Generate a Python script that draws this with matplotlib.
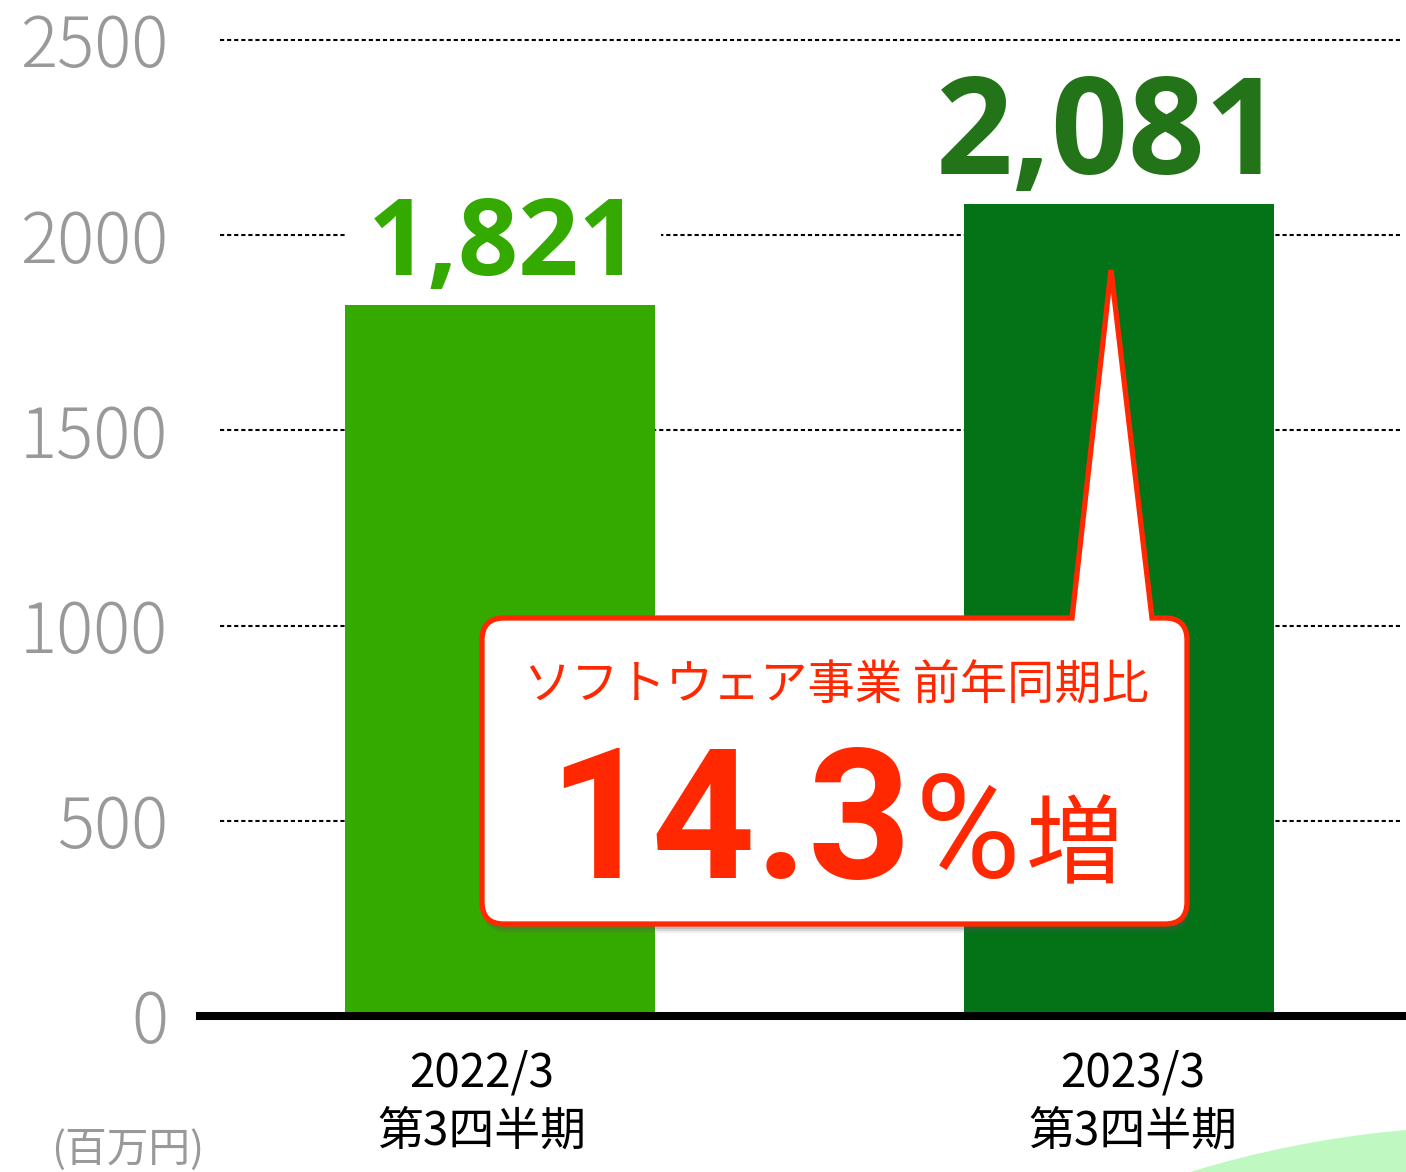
import numpy as np
import matplotlib
matplotlib.use("Agg")
import matplotlib.pyplot as plt
from matplotlib.path import Path
from matplotlib.patches import PathPatch, Circle
from matplotlib.transforms import IdentityTransform, Affine2D

plt.rcParams['font.family'] = ['Noto Sans CJK JP', 'DejaVu Sans']

# data
periods = ['2022/3\n第3四半期', '2023/3\n第3四半期']
sales = [1821, 2081]
sales_labels = ['1,821', '2,081']
yticks = [0, 500, 1000, 1500, 2000, 2500]
unit_label = '(百万円)'
callout_title = 'ソフトウェア事業 前年同期比'
growth = '14.3'

bar_colors = ['#34a900', '#047317']
label_colors = ['#34a900', '#237318']
label_sizes = [76, 97]
label_dx = [4, -10]      # px
xlabel_dx = [-18, 14]    # px
red = '#ff2800'

W, H = 1406, 1172
fig = plt.figure(figsize=(W / 100, H / 100), dpi=100)
ax = fig.add_axes([200 / W, (H - 1016) / H, 1 - 200 / W, (1016 - 40) / H])

x = np.arange(len(sales))
ax.set_xlim(-0.4847, 1.4637)
ax.set_ylim(0, 2500)

# gridlines (dotted)
for t in yticks[1:]:
    ax.hlines(t, -0.4523, 1.454, colors='black', linewidth=1.5,
              linestyles=(0, (2.0, 1.4)), zorder=1, clip_on=False)

ax.bar(x, sales, width=0.5, color=bar_colors, zorder=3)

for i, v in enumerate(sales):
    bb = None
    if i == 0:
        bb = dict(boxstyle='square,pad=0.2', fc='white', ec='none')
    ax.annotate(sales_labels[i], xy=(x[i], v), xytext=(label_dx[i] * 0.72, 30 * 0.72),
                textcoords='offset points', ha='center', va='baseline',
                fontsize=label_sizes[i], fontweight='bold', color=label_colors[i],
                family=['Open Sans', 'DejaVu Sans'], bbox=bb, zorder=2)

# axes styling
for s in ['left', 'right', 'top']:
    ax.spines[s].set_visible(False)
ax.spines['bottom'].set_linewidth(5.8)
ax.spines['bottom'].set_color('black')
ax.spines['bottom'].set_zorder(4)
ax.set_yticks(yticks)
ax.set_yticklabels([str(t) for t in yticks], color='#999999', fontsize=50,
                   fontweight='light')
ax.tick_params(axis='y', length=0, pad=23)
ax.set_xticks([])

for i, lab in enumerate(periods):
    ax.annotate(lab, xy=(x[i], 0), xytext=(xlabel_dx[i] * 0.72, -24),
                textcoords='offset points', ha='center', va='top',
                fontsize=33, color='black', linespacing=1.25)

fig.text(128 / W, 1 - 1129 / H, unit_label, ha='center', va='top',
         fontsize=30, color='#999999')

# decorative green shape bottom-right
fig.patches.append(Circle((1496.5, -1000), 1045.9, transform=IdentityTransform(),
                          facecolor='#bff8c0', edgecolor='none', zorder=0))


# callout balloon (image pixel coords)
def P(px, py):
    return (px, H - py)


def balloon(l, t, r, b, rad, bx0, bx1, tip):
    verts = [P(l + rad, t), P(bx0, t), P(*tip), P(bx1, t), P(r - rad, t),
             P(r, t), P(r, t + rad), P(r, b - rad), P(r, b), P(r - rad, b),
             P(l + rad, b), P(l, b), P(l, b - rad), P(l, t + rad), P(l, t),
             P(l + rad, t), P(l + rad, t)]
    codes = [Path.MOVETO, Path.LINETO, Path.LINETO, Path.LINETO, Path.LINETO,
             Path.CURVE3, Path.CURVE3, Path.LINETO, Path.CURVE3, Path.CURVE3,
             Path.LINETO, Path.CURVE3, Path.CURVE3, Path.LINETO, Path.CURVE3,
             Path.CURVE3, Path.CLOSEPOLY]
    return Path(verts, codes)


bpath = balloon(482, 618, 1187, 924, 22, 1072, 1152, (1111, 270))
for k, a in [(9, 0.10), (7, 0.15), (5, 0.2)]:
    sh = bpath.transformed(Affine2D().translate(2, -k))
    fig.patches.append(PathPatch(sh, transform=IdentityTransform(), facecolor='#555555',
                                 edgecolor='none', alpha=a, zorder=5))
fig.patches.append(PathPatch(bpath, transform=IdentityTransform(), facecolor='white',
                             edgecolor=red, linewidth=3.8, joinstyle='miter', zorder=6))

fig.text(836 / W, 1 - 686 / H, callout_title, ha='center', va='center',
         fontsize=34, color=red, zorder=7)
fig.text(912 / W, 1 - 878 / H, growth, ha='right', va='baseline', fontsize=130,
         fontweight='bold', color=red, family=['Roboto', 'DejaVu Sans'], zorder=7)
fig.text(915 / W, 1 - 878 / H, '%', ha='left', va='baseline', fontsize=104,
         color=red, family=['Roboto', 'DejaVu Sans'], zorder=7)
fig.text(1026 / W, 1 - 876 / H, '増', ha='left', va='baseline', fontsize=70,
         color=red, zorder=7)

fig.savefig('out.png', dpi=100)
